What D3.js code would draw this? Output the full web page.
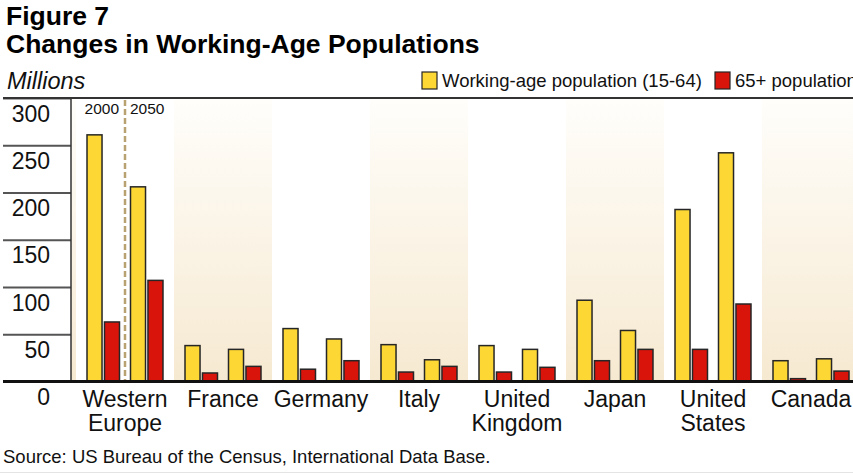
<!DOCTYPE html>
<html>
<head>
<meta charset="utf-8">
<script src="https://cdn.jsdelivr.net/npm/d3@7"></script>
<style>
  body { margin: 0; background: #fff; }
  svg { display: block; font-family: "Liberation Sans", Arial, Helvetica, sans-serif; }
</style>
</head>
<body>
<div id="chart"></div>
<script>
// data (millions)
const countries = ["Western Europe", "France", "Germany", "Italy", "United Kingdom", "Japan", "United States", "Canada"]
const years = ["2000", "2050"]
const series = ["Working-age population (15-64)", "65+ population"]
const working2000 = [261, 38, 56, 39, 38, 86, 182, 22]
const working2050 = [206, 34, 45, 23, 34, 54, 242, 24]
const old2000 = [63, 9, 13, 10, 10, 22, 34, 3]
const old2050 = [107, 16, 22, 16, 15, 34, 82, 11]
const yTicks = [0, 50, 100, 150, 200, 250, 300]

const width = 853
const height = 473
const axisX = 71
const bandStart = 76
const bandStep = 98
const colors = ["#fdd835", "#d9140b"]

const rows = []
countries.forEach((c, i) => {
  rows.push({ country: c, year: "2000", s: 0, value: working2000[i] })
  rows.push({ country: c, year: "2000", s: 1, value: old2000[i] })
  rows.push({ country: c, year: "2050", s: 0, value: working2050[i] })
  rows.push({ country: c, year: "2050", s: 1, value: old2050[i] })
})

const x = d3.scaleBand()
  .domain(countries)
  .range([bandStart, bandStart + bandStep * countries.length])
  .padding(0)
const xYear = d3.scaleBand()
  .domain(years)
  .range([0, x.bandwidth()])
  .paddingInner(0.253)
  .paddingOuter(0.253)
const xSeries = d3.scaleBand()
  .domain([0, 1])
  .range([0, xYear.bandwidth()])
  .paddingInner(0.14)
const y = d3.scaleLinear().domain([0, 300]).range([381.5, 98])

const svg = d3.select("#chart")
  .append("svg")
  .attr("width", width)
  .attr("height", height)
  .attr("viewBox", [0, 0, width, height])

const defs = svg.append("defs")
const grad = defs.append("linearGradient")
  .attr("id", "bandGrad")
  .attr("x1", 0).attr("y1", 0).attr("x2", 0).attr("y2", 1)
grad.append("stop").attr("offset", "0%").attr("stop-color", "#fffefb")
grad.append("stop").attr("offset", "100%").attr("stop-color", "#f6e9d1")
defs.append("clipPath").attr("id", "plotClip")
  .append("rect")
  .attr("x", axisX).attr("y", y(300))
  .attr("width", width - axisX).attr("height", y(0) - y(300))

// alternating background bands (odd ones shaded, plus the sliver left of Western Europe)
const bands = svg.append("g").attr("clip-path", "url(#plotClip)")
bands.append("rect")
  .attr("x", bandStart - bandStep)
  .attr("y", y(300))
  .attr("width", bandStep)
  .attr("height", y(0) - y(300))
  .attr("fill", "url(#bandGrad)")
bands.selectAll(".band")
  .data(countries.filter((d, i) => i % 2 === 1))
  .join("rect")
  .attr("class", "band")
  .attr("x", d => x(d))
  .attr("y", y(300))
  .attr("width", x.bandwidth())
  .attr("height", y(0) - y(300))
  .attr("fill", "url(#bandGrad)")

// y axis: lines on the left, labels hanging below each line
const yAxis = d3.axisLeft(y)
  .tickValues(yTicks)
  .tickSize(axisX - 3)
  .tickFormat(d3.format("d"))
svg.append("g")
  .attr("transform", `translate(${axisX},0)`)
  .call(yAxis)
  .call(g => g.select(".domain").remove())
  .call(g => g.selectAll(".tick line").attr("stroke", "#555").attr("stroke-width", 2))
  .call(g => g.selectAll(".tick text")
    .attr("x", -21)
    .attr("dy", 23)
    .attr("fill", "#111")
    .style("font-size", "23px"))

// divider between 2000 and 2050 in the first group
const divX = x(countries[0]) + x.bandwidth() / 2
svg.append("line")
  .attr("x1", divX).attr("x2", divX)
  .attr("y1", y(300) + 2).attr("y2", y(0))
  .attr("stroke", "#b9a272")
  .attr("stroke-width", 2.5)
  .attr("stroke-dasharray", "6,3")
svg.append("text")
  .attr("x", divX - 6).attr("y", 113.5)
  .attr("text-anchor", "end")
  .style("font-size", "15.5px")
  .attr("fill", "#111")
  .text(years[0])
svg.append("text")
  .attr("x", divX + 5).attr("y", 113.5)
  .style("font-size", "15.5px")
  .attr("fill", "#111")
  .text(years[1])

// bars
svg.append("g")
  .selectAll("rect")
  .data(rows)
  .join("rect")
  .attr("x", d => x(d.country) + xYear(d.year) + xSeries(d.s))
  .attr("y", d => y(d.value))
  .attr("width", xSeries.bandwidth())
  .attr("height", d => y(0) - y(d.value))
  .attr("fill", d => colors[d.s])
  .attr("stroke", "#262626")
  .attr("stroke-width", 1.5)

// frame lines
svg.append("line")
  .attr("x1", axisX).attr("x2", axisX)
  .attr("y1", y(300)).attr("y2", y(0))
  .attr("stroke", "#333").attr("stroke-width", 1.5)
svg.append("line")
  .attr("x1", 3).attr("x2", width)
  .attr("y1", y(300)).attr("y2", y(300))
  .attr("stroke", "#333").attr("stroke-width", 2)
svg.append("line")
  .attr("x1", 3).attr("x2", width)
  .attr("y1", y(0)).attr("y2", y(0))
  .attr("stroke", "#111").attr("stroke-width", 3)

// category axis
const xAxis = d3.axisBottom(x).tickSize(0).tickPadding(0)
svg.append("g")
  .attr("transform", `translate(0,${y(0)})`)
  .call(xAxis)
  .call(g => g.select(".domain").remove())
  .call(g => g.selectAll(".tick text").each(function (d) {
    const t = d3.select(this).text("").attr("y", 0).attr("dy", null)
      .attr("fill", "#111").style("font-size", "23px")
    const parts = d === "Western Europe" || d === "United Kingdom" || d === "United States"
      ? d.split(" ") : [d]
    parts.forEach((p, i) => {
      t.append("tspan").attr("x", 0).attr("y", 25 + i * 24).text(p)
    })
  }))

// titles
svg.append("text").attr("x", 6).attr("y", 25)
  .style("font-size", "26.5px").style("font-weight", "bold").attr("fill", "#000")
  .text("Figure 7")
svg.append("text").attr("x", 6).attr("y", 53)
  .style("font-size", "26.5px").style("font-weight", "bold").attr("fill", "#000")
  .text("Changes in Working-Age Populations")
svg.append("text").attr("x", 7).attr("y", 89)
  .style("font-size", "23.5px").style("font-style", "italic").attr("fill", "#111")
  .text("Millions")

// legend
const legendX = [422, 715]
const legend = svg.append("g")
  .selectAll("g")
  .data(series)
  .join("g")
  .attr("transform", (d, i) => `translate(${legendX[i]},72)`)
legend.append("rect")
  .attr("width", 15).attr("height", 17)
  .attr("fill", (d, i) => colors[i])
  .attr("stroke", "#262626").attr("stroke-width", 1.2)
legend.append("text")
  .attr("x", 20).attr("y", 15)
  .style("font-size", "18.5px").attr("fill", "#111")
  .text(d => d)

// source
svg.append("text").attr("x", 3).attr("y", 463)
  .style("font-size", "18.5px").attr("fill", "#111")
  .text("Source: US Bureau of the Census, International Data Base.")
svg.append("line")
  .attr("x1", 0).attr("x2", width).attr("y1", 472.5).attr("y2", 472.5)
  .attr("stroke", "#e4e4e4").attr("stroke-width", 1)
</script>
</body>
</html>
